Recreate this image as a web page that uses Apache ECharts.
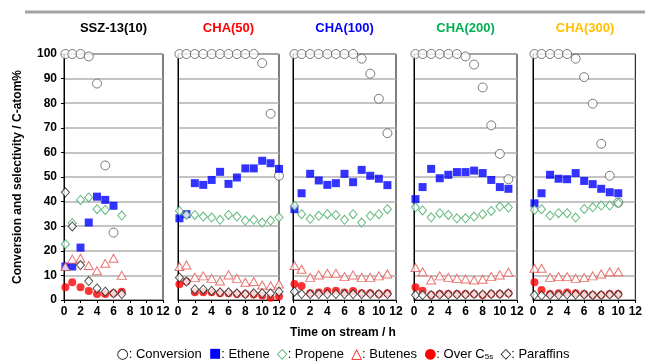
<!DOCTYPE html>
<html><head><meta charset="utf-8">
<script src="https://cdn.jsdelivr.net/npm/echarts@6/dist/echarts.min.js"></script>
<style>html,body{margin:0;padding:0;background:#fff}#c{width:645px;height:362px}</style>
</head><body><div id="c"></div>
<script>
// ---- data ----
const panelTitles = ['SSZ-13(10)', 'CHA(50)', 'CHA(100)', 'CHA(200)', 'CHA(300)'];
const xTicks = [0, 2, 4, 6, 8, 10, 12];
const yTicks = [0, 10, 20, 30, 40, 50, 60, 70, 80, 90, 100];

const time1 = [0.17, 1, 2, 3, 4, 5, 6, 7];
const conv1 = [100, 100, 100, 99, 88, 54.7, 27.4, null];
const eth1  = [13.6, 13.6, 21.3, 31.5, 42, 40.7, 38.3, null];
const pro1  = [22.7, 31.2, 40.7, 41.7, 36.9, 36.6, null, 34.3];
const but1  = [13.6, 16.6, 17, 14, 11.9, 14.9, 17, 10];
const over1 = [5.2, 7.2, 5.2, 3.7, 2.4, 2.4, 2.7, 3.4];
const par1  = [43.8, 29.9, 14.2, 7.7, 4.7, 3.4, 2.7, 2.4];

const time2 = [0.17, 1, 2, 3, 4, 5, 6, 7, 8, 9, 10, 11, 12];
const conv2 = [100, 100, 100, 100, 100, 100, 100, 100, 100, 100, 96.3, 75.7, 50.5];
const eth2  = [33.2, 34.9, 47.5, 46.8, 48.8, 52.1, 47.2, 49.8, 53.5, 53.5, 56.6, 55.6, 53.3];
const pro2  = [36.2, 34.6, 34.6, 33.9, 33.5, 32.6, 34.6, 33.9, 32.3, 32.6, 31.5, 32.3, 33.6];
const but2  = [13.6, 14.2, 9.2, 9.8, 8.8, 7.7, 10.2, 8.8, 7.2, 7.5, 6.1, 5.8, 6.5];
const over2 = [6.4, 7.5, 3.1, 3.1, 3.1, 2.7, 2.7, 2.4, 2.4, 2.2, 1.8, 0.9, 1.4];
const par2  = [9.1, 7.5, 4.3, 4.3, 3.7, 3.1, 3.1, 2.7, 2.4, 2.7, 2.7, 2.7, 3.4];

const time3 = [0.17, 1, 2, 3, 4, 5, 6, 7, 8, 9, 10, 11];
const conv3 = [100, 100, 100, 100, 100, 100, 100, 100, 98.1, 92, 81.8, 67.8];
const eth3  = [36.9, 43.4, 51.3, 48.6, 46.8, 47.5, 51.3, 47.9, 52.9, 50.5, 49.3, 46.7];
const pro3  = [38.3, 34.9, 33, 34.2, 34.9, 34.6, 32.6, 34.9, 31.5, 34.2, 34.9, 36.9];
const but3  = [14, 12.5, 9.2, 10.2, 10.9, 10.9, 9.5, 10.2, 9.2, 9.2, 9.8, 10.6];
const over3 = [6.5, 5.7, 2.7, 3.0, 3.7, 3.8, 3.0, 3.7, 2.7, 2.7, 2.4, 2.7];
const par3  = [3.4, 2.4, 2.4, 2.4, 2.4, 2.4, 2.4, 2.4, 2.4, 2.4, 2.4, 2.4];

const time4 = [0.17, 1, 2, 3, 4, 5, 6, 7, 8, 9, 10, 11];
const conv4 = [100, 100, 100, 100, 100, 100, 99, 95.7, 86.4, 71, 59.4, 49.1];
const eth4  = [41, 45.9, 53.3, 49.5, 50.9, 52, 52, 52.6, 51.6, 48.8, 45.9, 45.2];
const pro4  = [37.7, 36.4, 33.6, 35.3, 34.6, 33.2, 33.2, 33.9, 34.9, 36.2, 38, 37.6];
const but4  = [13.2, 11.5, 8.1, 9.8, 9.2, 8.8, 8.5, 8.1, 8.4, 9.5, 10.2, 11.3];
const over4 = [5.2, 3.8, 2.0, 2.4, 2.4, 2.4, 2.4, 2.4, 2.0, 2.4, 2.4, 2.7];
const par4  = [2.0, 2.0, 2.0, 2.2, 2.2, 2.2, 2.2, 2.4, 2.2, 2.4, 2.4, 2.7];

const time5 = [0.17, 1, 2, 3, 4, 5, 6, 7, 8, 9, 10];
const conv5 = [100, 100, 100, 100, 100, 98.1, 90.6, 79.8, 63.5, 50.5, 39.6];
const eth5  = [39.3, 43.4, 50.9, 49.3, 49.1, 51.6, 48.4, 47.1, 45.2, 43.8, 43.4];
const pro5  = [36.6, 36.9, 34.3, 35.3, 35.3, 33.5, 37, 37.7, 38.4, 38.4, 39.3];
const but5  = [12.9, 12.9, 9.2, 9.5, 9.5, 8.8, 9.1, 9.8, 10.6, 11.5, 11.5];
const over5 = [7.2, 4.1, 2.4, 2.7, 3.0, 2.7, 2.4, 2.0, 2.0, 2.4, 2.4];
const par5  = [2.0, 1.8, 2.0, 2.0, 2.2, 2.2, 2.2, 2.0, 2.0, 2.2, 2.2];

// ---- build ----
const FONT = '"Liberation Sans", Arial, sans-serif';
const SYMFONT = '"DejaVu Sans", sans-serif';
const panels = [
  {t: time1, s: [conv1, eth1, pro1, but1, over1, par1]},
  {t: time2, s: [conv2, eth2, pro2, but2, over2, par2]},
  {t: time3, s: [conv3, eth3, pro3, but3, over3, par3]},
  {t: time4, s: [conv4, eth4, pro4, but4, over4, par4]},
  {t: time5, s: [conv5, eth5, pro5, but5, over5, par5]}
];
const titleColors = ['#000000', '#ff0000', '#0000ff', '#00b050', '#ffc000'];
const gridBox = [[64, 163], [178, 279], [293, 396], [414, 517], [533, 637]];
const TOP = 54, BOTTOM = 300;

const seriesStyles = [
  {name: 'Conversion', symbol: 'circle', symbolSize: 9, itemStyle: {color: '#ffffff', borderColor: '#5a5a5a', borderWidth: 1}},
  {name: 'Ethene', symbol: 'rect', symbolSize: 8, itemStyle: {color: '#0000ff'}},
  {name: 'Propene', symbol: 'diamond', symbolSize: [8, 9], itemStyle: {color: '#ffffff', borderColor: '#3aa85c', borderWidth: 1}},
  {name: 'Butenes', symbol: 'triangle', symbolSize: [9, 8], itemStyle: {color: '#ffffff', borderColor: '#e5504c', borderWidth: 1}},
  {name: 'Over C5s', symbol: 'circle', symbolSize: 8, itemStyle: {color: '#ff0000'}},
  {name: 'Paraffins', symbol: 'diamond', symbolSize: [8, 9], itemStyle: {color: '#ffffff', borderColor: '#222222', borderWidth: 1}}
];

const grids = [], xAxes = [], yAxes = [], series = [], graphics = [];
panels.forEach((p, i) => {
  const [l, r] = gridBox[i];
  grids.push({left: l, width: r - l, top: TOP, height: BOTTOM - TOP, show: true, borderColor: '#000', borderWidth: 1, backgroundColor: 'transparent'});
  xAxes.push({
    type: 'value', gridIndex: i, min: xTicks[0], max: xTicks[xTicks.length - 1], interval: 2,
    axisLine: {show: true, lineStyle: {color: '#000', width: 1}},
    axisTick: {show: true, length: 3, lineStyle: {color: '#000'}},
    axisLabel: {color: '#000', fontSize: 12, fontWeight: 'bold', fontFamily: FONT, margin: 6},
    splitLine: {show: false}
  });
  yAxes.push({
    type: 'value', gridIndex: i, min: yTicks[0], max: yTicks[yTicks.length - 1], interval: 10,
    axisLine: {show: true, lineStyle: {color: '#000', width: 1}},
    axisTick: {show: i === 0, length: 3, lineStyle: {color: '#000'}},
    axisLabel: {show: i === 0, color: '#000', fontSize: 12, fontWeight: 'bold', fontFamily: FONT, margin: 7},
    splitLine: {show: true, lineStyle: {color: '#b0b0b0', width: 1.5}},
    name: i === 0 ? 'Conversion and selectivity / C-atom%' : '',
    nameLocation: 'middle', nameGap: 40,
    nameTextStyle: {color: '#000', fontSize: 12, fontWeight: 'bold', fontFamily: FONT}
  });
  p.s.forEach((vals, k) => {
    const st = seriesStyles[k];
    const data = [];
    p.t.forEach((tt, j) => { if (vals[j] !== null && vals[j] !== undefined) data.push([tt, vals[j]]); });
    series.push({
      type: 'scatter', name: st.name, xAxisIndex: i, yAxisIndex: i, data: data,
      symbol: st.symbol, symbolSize: st.symbolSize, itemStyle: st.itemStyle,
      z: 2 + k, silent: true, animation: false
    });
  });
  graphics.push({
    type: 'text', x: (l + r) / 2, y: 28,
    style: {text: panelTitles[i], fill: titleColors[i], font: 'bold 13px ' + FONT, textAlign: 'center', textVerticalAlign: 'middle'}
  });
});

graphics.push({type: 'line', shape: {x1: 25, y1: 12, x2: 645, y2: 12}, style: {stroke: '#a3a3a3', lineWidth: 3}});
graphics.push({
  type: 'text', x: 343, y: 333,
  style: {text: 'Time on stream / h', fill: '#000', font: 'bold 12px ' + FONT, textAlign: 'center', textVerticalAlign: 'middle'}
});
graphics.push({
  type: 'text', x: 343, y: 354,
  style: {
    text: '{k|○}: Conversion  {b|■}: Ethene  {g|◇}: Propene  {r|△}: Butenes  {r|●}: Over C{sub|5s}  {k|◇}: Paraffins',
    font: '13px ' + FONT, fill: '#000', textAlign: 'center', textVerticalAlign: 'middle',
    rich: {
      k: {fill: '#000', fontSize: 14, fontFamily: SYMFONT},
      b: {fill: '#0000ff', fontSize: 13, fontFamily: SYMFONT},
      g: {fill: '#3aa85c', fontSize: 14, fontFamily: SYMFONT},
      r: {fill: '#ff0000', fontSize: 14, fontFamily: SYMFONT},
      sub: {fill: '#000', fontSize: 8, fontFamily: FONT, verticalAlign: 'bottom', padding: [6, 0, 0, 0]}
    }
  }
});

const chart = echarts.init(document.getElementById('c'), null, {renderer: 'canvas'});
chart.setOption({
  animation: false,
  textStyle: {fontFamily: FONT},
  grid: grids, xAxis: xAxes, yAxis: yAxes, series: series, graphic: graphics
});
</script></body></html>
